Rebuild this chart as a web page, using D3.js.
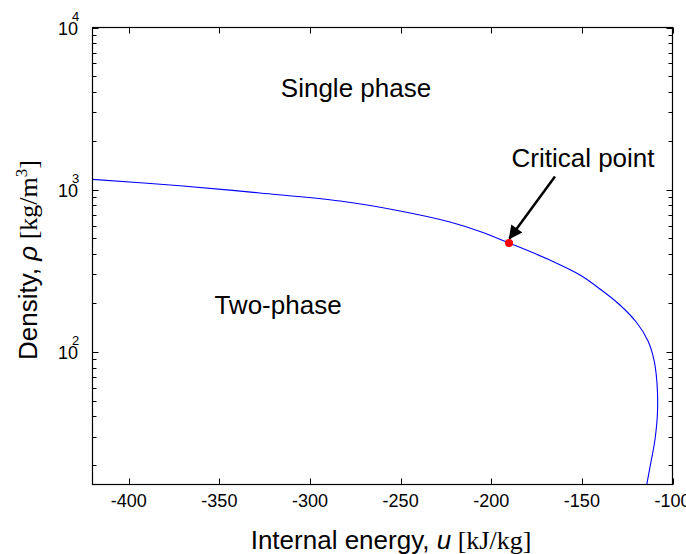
<!DOCTYPE html>
<html><head><meta charset="utf-8">
<script src="https://cdn.jsdelivr.net/npm/d3@7"></script>
<style>body{margin:0;background:#fff}svg{display:block}</style>
</head><body>
<script>
// Data: saturation curve, internal energy u [kJ/kg] vs density rho [kg/m3]
const energyU = [-420, -371.7, -327.6, -283.4, -250.3, -222.8, -206.2, -190.2, -167.6, -151.0, -140.0, -129.0, -119.6, -113.5, -110.2, -108.56, -108.3, -109.7, -112.4, -114.2];
const densityRho = [1158, 1058, 954, 851, 739, 632, 552, 469, 368, 297.8, 244, 194.4, 150.6, 116.6, 89.0, 64.2, 41.9, 28.6, 19.5, 15.2];
const criticalPoint = [-190.2, 469];
const xTicks = [-400, -350, -300, -250, -200, -150, -100];
const yDecades = [2, 3, 4];

const W = 686, H = 554;
const m = {left: 92.5, right: 672.5, top: 27.5, bottom: 484.5};
const svg = d3.select("body").append("svg").attr("width", W).attr("height", H);
const x = d3.scaleLinear().domain([-420, -100]).range([m.left, m.right]);
const y = d3.scaleLog().domain([15.2, 10000]).range([m.bottom, m.top]);

const font = "Liberation Sans, Arial, sans-serif";
const serif = "Liberation Serif, Times New Roman, serif";

// curve
const line = d3.line().x((d, i) => x(energyU[i])).y((d, i) => y(densityRho[i])).curve(d3.curveCatmullRom.alpha(0.5));
svg.append("path").datum(densityRho).attr("d", line).attr("fill", "none").attr("stroke", "#0000ff").attr("stroke-width", 1.1);

// critical point
svg.append("circle").attr("cx", x(criticalPoint[0])).attr("cy", y(criticalPoint[1])).attr("r", 4).attr("fill", "#ff0000");

// frame
svg.append("rect").attr("x", m.left).attr("y", m.top).attr("width", m.right - m.left).attr("height", m.bottom - m.top)
  .attr("fill", "none").attr("stroke", "#000").attr("stroke-width", 1.2);

// x ticks (inside, bottom and top)
const gx = svg.append("g");
xTicks.forEach(t => {
  const px = Math.round(x(t)) + 0.5;
  gx.append("line").attr("x1", px).attr("x2", px).attr("y1", m.bottom).attr("y2", m.bottom - 6).attr("stroke", "#000");
  gx.append("line").attr("x1", px).attr("x2", px).attr("y1", m.top).attr("y2", m.top + 6).attr("stroke", "#000");
  gx.append("text").attr("x", x(t)).attr("y", 507).attr("text-anchor", "middle")
    .attr("font-family", font).attr("font-size", 18).text(t);
});

// y ticks log (inside, left and right)
const gy = svg.append("g");
const vals = [];
for (let d = 1; d <= 4; d++) for (let k = 1; k <= 9; k++) {
  const v = k * Math.pow(10, d);
  if (v >= 15.2 && v <= 10000) vals.push(v);
}
vals.forEach(v => {
  const major = Math.abs(Math.log10(v) - Math.round(Math.log10(v))) < 1e-9;
  const len = major ? 6 : 4;
  const py = Math.round(y(v)) + 0.5;
  gy.append("line").attr("x1", m.left).attr("x2", m.left + len).attr("y1", py).attr("y2", py).attr("stroke", "#000");
  gy.append("line").attr("x1", m.right).attr("x2", m.right - len).attr("y1", py).attr("y2", py).attr("stroke", "#000");
});
yDecades.forEach(e => {
  const yy = y(Math.pow(10, e));
  gy.append("text").attr("x", 78).attr("y", yy + 7).attr("text-anchor", "end")
    .attr("font-family", font).attr("font-size", 18).text("10");
  gy.append("text").attr("x", 72).attr("y", yy - 7).attr("text-anchor", "start")
    .attr("font-family", font).attr("font-size", 13).text(e);
});

// axis labels
const xl = svg.append("text").attr("x", 391).attr("y", 549).attr("text-anchor", "middle").attr("font-size", 26).attr("font-family", font);
xl.append("tspan").text("Internal energy, ");
xl.append("tspan").attr("font-style", "italic").text("u");
xl.append("tspan").attr("font-family", serif).text(" [kJ/kg]");

const yl = svg.append("text").attr("transform", "translate(37,260) rotate(-90)").attr("text-anchor", "middle").attr("font-size", 26).attr("font-family", font);
yl.append("tspan").text("Density, ");
yl.append("tspan").attr("font-style", "italic").text("ρ");
yl.append("tspan").attr("font-family", serif).text(" [kg/m");
yl.append("tspan").attr("font-family", serif).attr("font-size", 17).attr("dy", -10).text("3");
yl.append("tspan").attr("font-family", serif).attr("dy", 10).text("]");

// annotations
svg.append("text").attr("x", 356).attr("y", 97).attr("text-anchor", "middle").attr("font-size", 26).attr("font-family", font).text("Single phase");
svg.append("text").attr("x", 278).attr("y", 314).attr("text-anchor", "middle").attr("font-size", 26).attr("font-family", font).text("Two-phase");
svg.append("text").attr("x", 583).attr("y", 167).attr("text-anchor", "middle").attr("font-size", 26).attr("font-family", font).text("Critical point");

// arrow
svg.append("defs").append("marker").attr("id", "ah").attr("viewBox", "0 0 10 10").attr("refX", 9).attr("refY", 5)
  .attr("markerWidth", 6.5).attr("markerHeight", 5.5).attr("markerUnits", "strokeWidth").attr("orient", "auto")
  .append("path").attr("d", "M0,0 L10,5 L0,10 z").attr("fill", "#000");
svg.append("line").attr("x1", 555).attr("y1", 176.5).attr("x2", 509.5).attr("y2", 238.5).attr("stroke", "#000").attr("stroke-width", 2.5).attr("marker-end", "url(#ah)");
</script>
</body></html>
